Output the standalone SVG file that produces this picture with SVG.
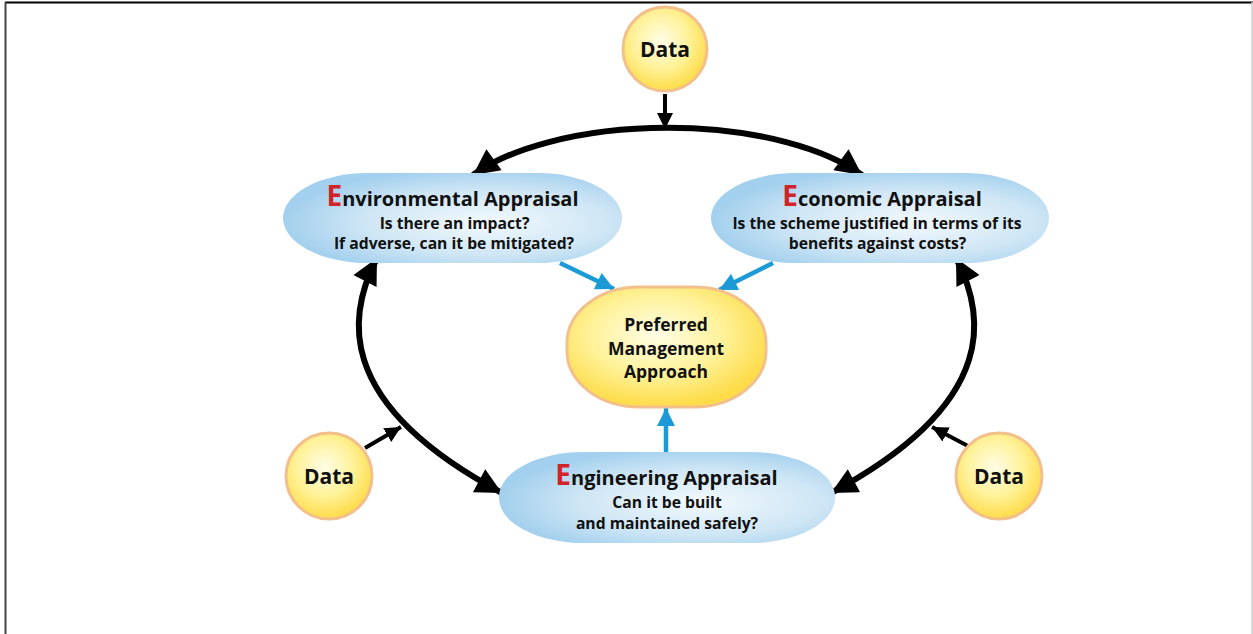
<svg xmlns="http://www.w3.org/2000/svg" width="1253" height="634" viewBox="0 0 1253 634">
<defs>
<style>
text{font-family:"Open Sans","Noto Sans","Liberation Sans",sans-serif;font-weight:700;fill:#111;text-anchor:middle}
.data{font-size:21px}
.title{font-size:20px}
.sub{font-size:15.7px}
.pma{font-size:17.5px}
.e{fill:#d2232a;font-size:28px}
.blk{fill:none;stroke:#000;stroke-width:6}
.thin{fill:none;stroke:#000;stroke-width:4}
.blue{fill:none;stroke:#1b9ad6;stroke-width:4.5}
.circ{fill:url(#yel);stroke:#f3c08c;stroke-width:3}
.pill{fill:url(#blu)}
</style>
<radialGradient id="yel" cx="0.45" cy="0.4" r="0.6">
<stop offset="0" stop-color="#fffde6"/>
<stop offset="0.55" stop-color="#fff29a"/>
<stop offset="1" stop-color="#fddc48"/>
</radialGradient>
<radialGradient id="blu" cx="0.6" cy="0.55" r="0.6">
<stop offset="0" stop-color="#f2f9fd"/>
<stop offset="0.6" stop-color="#cfe6f5"/>
<stop offset="1" stop-color="#a3d0ee"/>
</radialGradient>
<marker id="big" viewBox="0 0 10 10" refX="10" refY="5" markerWidth="30" markerHeight="26" markerUnits="userSpaceOnUse" orient="auto-start-reverse">
<path d="M0,0 L10,5 L0,10 z" fill="#000"/>
</marker>
<marker id="small" viewBox="0 0 10 10" refX="10" refY="5" markerWidth="16" markerHeight="16" markerUnits="userSpaceOnUse" orient="auto">
<path d="M0,0 L10,5 L0,10 z" fill="#000"/>
</marker>
<marker id="bl" viewBox="0 0 10 10" refX="10" refY="5" markerWidth="20" markerHeight="18" markerUnits="userSpaceOnUse" orient="auto">
<path d="M0,0 L10,5 L0,10 z" fill="#1b9ad6"/>
</marker>
</defs>
<rect x="0" y="0" width="1253" height="634" fill="#fff"/>
<g id="frame">
<line x1="5" y1="2.5" x2="1253" y2="2.5" stroke="#000" stroke-width="2"/>
<line x1="5.5" y1="2" x2="5.5" y2="634" stroke="#444" stroke-width="2"/>
<line x1="1252" y1="2" x2="1252" y2="634" stroke="#ccc" stroke-width="1.5"/>
</g>
<g id="connectors">
<path class="blk" d="M473 175 A225 95 0 0 1 862 175" marker-start="url(#big)" marker-end="url(#big)"/>
<path class="blk" d="M377 258 C350 310 328 400 502 493" marker-start="url(#big)" marker-end="url(#big)"/>
<path class="blk" d="M956 258 C983 310 1005 400 831 493" marker-start="url(#big)" marker-end="url(#big)"/>
<path class="thin" d="M665 94 L665 129" marker-end="url(#small)"/>
<path class="thin" d="M365 448 L401 427" marker-end="url(#small)"/>
<path class="thin" d="M968 446 L932 427" marker-end="url(#small)"/>
<path class="blue" d="M560 263 L614 289" marker-end="url(#bl)"/>
<path class="blue" d="M773 263 L719 290" marker-end="url(#bl)"/>
<path class="blue" d="M666 452 L666 408" marker-end="url(#bl)"/>
</g>
<g id="data-top">
<circle class="circ" cx="665" cy="49" r="42"/>
<text class="data" x="665" y="57">Data</text>
</g>
<g id="data-left">
<circle class="circ" cx="329" cy="476" r="43"/>
<text class="data" x="329" y="484">Data</text>
</g>
<g id="data-right">
<circle class="circ" cx="999" cy="476" r="43"/>
<text class="data" x="999" y="484">Data</text>
</g>
<g id="environmental">
<rect class="pill" x="283" y="173" width="339" height="90" rx="85" ry="45"/>
<text class="title" x="452.5" y="206"><tspan class="e">E</tspan>nvironmental Appraisal</text>
<text class="sub" x="454.5" y="229">Is there an impact?</text>
<text class="sub" x="454" y="249">If adverse, can it be mitigated?</text>
</g>
<g id="economic">
<rect class="pill" x="711" y="173" width="338" height="90" rx="85" ry="45"/>
<text class="title" x="882" y="206"><tspan class="e">E</tspan>conomic Appraisal</text>
<text class="sub" x="877" y="229">Is the scheme justified in terms of its</text>
<text class="sub" x="877.5" y="249">benefits against costs?</text>
</g>
<g id="preferred">
<rect x="567" y="287" width="199" height="120" rx="72" ry="56" fill="url(#yel)" stroke="#f3c08c" stroke-width="3"/>
<text class="pma" x="666" y="331">Preferred</text>
<text class="pma" x="666" y="355">Management</text>
<text class="pma" x="666" y="378">Approach</text>
</g>
<g id="engineering">
<rect class="pill" x="499" y="452" width="336" height="91" rx="85" ry="45"/>
<text class="title" x="666.5" y="485"><tspan class="e">E</tspan>ngineering Appraisal</text>
<text class="sub" x="667" y="508">Can it be built</text>
<text class="sub" x="667" y="529">and maintained safely?</text>
</g>
</svg>
